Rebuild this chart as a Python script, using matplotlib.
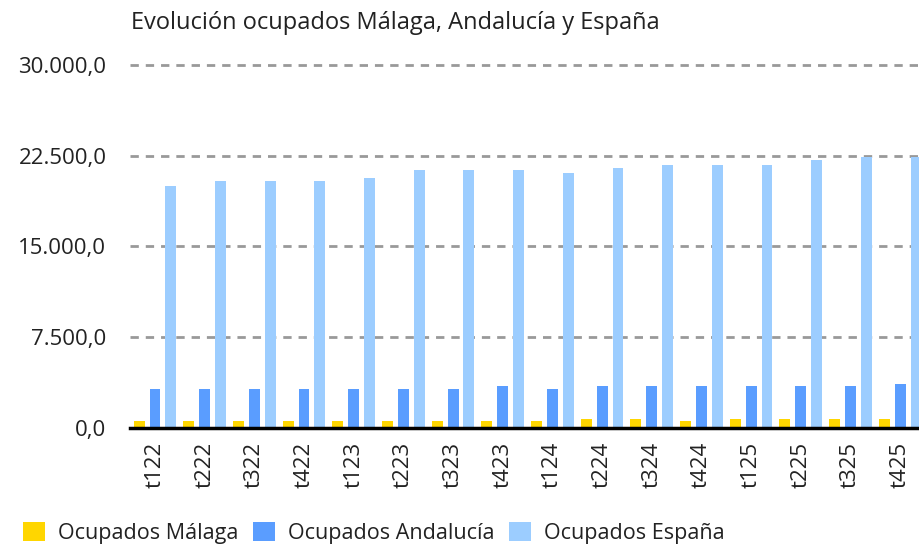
import numpy as np
import matplotlib
matplotlib.use("Agg")
import matplotlib.pyplot as plt
from matplotlib.patches import Patch

plt.rcParams['font.family'] = ['Open Sans', 'DejaVu Sans']

# datos (miles de ocupados)
trimestres = ["t122", "t222", "t322", "t422", "t123", "t223", "t323", "t423",
              "t124", "t224", "t324", "t424", "t125", "t225", "t325", "t425"]
malaga = [560, 560, 560, 560, 560, 560, 560, 560,
          560, 740, 740, 560, 740, 740, 740, 740]
andalucia = [3200, 3200, 3200, 3200, 3200, 3200, 3200, 3450,
             3200, 3450, 3450, 3450, 3450, 3450, 3450, 3600]
espana = [20000, 20400, 20400, 20400, 20650, 21310, 21310, 21310,
          21060, 21475, 21720, 21720, 21720, 22140, 22385, 22385]

series = ["Ocupados Málaga", "Ocupados Andalucía", "Ocupados España"]
colores = ["#FFD600", "#5A9DFF", "#9CCDFF"]


def fmt_es(v, pos=None):
    s = f"{v:,.1f}"
    return s.replace(",", "X").replace(".", ",").replace("X", ".")


fig = plt.figure(figsize=(9.19, 5.52), dpi=100)
ax = fig.add_axes([130 / 919, 124.3 / 552, 1 - 130 / 919, (427.7 - 65) / 552])

x = np.arange(len(trimestres))
ancho = 0.22
desp = [-0.32, 0.0, 0.32]
for datos, d, c in zip([malaga, andalucia, espana], desp, colores):
    ax.bar(x + d, datos, width=ancho, color=c, zorder=3)

ax.set_ylim(0, 30000)
ax.set_xlim(-0.503, 15.38)
ax.set_yticks([0, 7500, 15000, 22500, 30000])
ax.yaxis.set_major_formatter(plt.FuncFormatter(fmt_es))
ax.set_xticks(x)
ax.set_xticklabels(trimestres, rotation=90)
ax.tick_params(axis='y', length=0, pad=17, labelsize=16, labelcolor='#222222')
ax.tick_params(axis='x', length=0, pad=10, labelsize=16, labelcolor='#222222')

for v in [7500, 15000, 22500, 30000]:
    ax.axhline(v, color='#999999', lw=2, ls=(0, (3, 2.5)), zorder=1, clip_on=False)

for s in ['top', 'right', 'left']:
    ax.spines[s].set_visible(False)
ax.spines['bottom'].set_color('black')
ax.spines['bottom'].set_linewidth(2.5)
ax.spines['bottom'].set_zorder(4)

fig.text(131 / 919, (552 - 29) / 552, "Evolución ocupados Málaga, Andalucía y España",
         fontsize=17, color='#222222', va='baseline', ha='left')

handles = [Patch(facecolor=c, edgecolor='none') for c in colores]
fig.legend(handles, series, loc='center left', bbox_to_anchor=(4 / 919, 19 / 552),
           ncol=3, frameon=False, fontsize=15.5, handlelength=1.0, handleheight=1.0,
           handletextpad=0.6, columnspacing=0.7, labelcolor='#222222')

fig.savefig("out.png", dpi=100)
